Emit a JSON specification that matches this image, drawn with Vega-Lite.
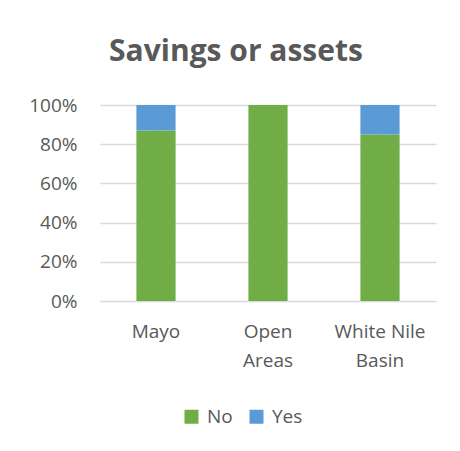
{
  "$schema": "https://vega.github.io/schema/vega-lite/v6.json",
  "width": 336,
  "height": 196,
  "autosize": {"type": "none"},
  "padding": {"left": 100, "top": 105, "right": 24, "bottom": 150},
  "background": "white",
  "title": {
    "text": "Savings or assets",
    "font": "Open Sans",
    "fontSize": 30,
    "fontWeight": "bold",
    "color": "#595959",
    "anchor": "middle",
    "dx": -32,
    "baseline": "alphabetic",
    "offset": 5
  },
  "data": {
    "values": [
      {"region": "Mayo", "answer": "No", "share": 0.87, "rank": 1},
      {"region": "Mayo", "answer": "Yes", "share": 0.13, "rank": 2},
      {"region": "Open Areas", "answer": "No", "share": 1.0, "rank": 1},
      {"region": "Open Areas", "answer": "Yes", "share": 0.0, "rank": 2},
      {"region": "White Nile Basin", "answer": "No", "share": 0.85, "rank": 1},
      {"region": "White Nile Basin", "answer": "Yes", "share": 0.15, "rank": 2}
    ]
  },
  "mark": {"type": "bar"},
  "encoding": {
    "x": {
      "field": "region",
      "type": "nominal",
      "sort": null,
      "scale": {"paddingInner": 0.65, "paddingOuter": 0.325},
      "axis": {
        "title": null,
        "labelAngle": 0,
        "domain": true,
        "domainColor": "#D9D9D9",
        "ticks": false,
        "labelPadding": 21,
        "labelFont": "Open Sans",
        "labelFontSize": 19,
        "labelColor": "#595959",
        "labelLineHeight": 29,
        "labelBaseline": "top",
        "labelExpr": "datum.value == 'Open Areas' ? ['Open', 'Areas'] : datum.value == 'White Nile Basin' ? ['White Nile', 'Basin'] : datum.value"
      }
    },
    "y": {
      "field": "share",
      "type": "quantitative",
      "stack": "zero",
      "scale": {"domain": [0, 1]},
      "axis": {
        "title": null,
        "format": ".0%",
        "values": [0, 0.2, 0.4, 0.6, 0.8, 1],
        "domain": false,
        "ticks": false,
        "labelPadding": 23,
        "labelFont": "Open Sans",
        "labelFontSize": 19,
        "labelColor": "#595959",
        "gridColor": "#D9D9D9",
        "gridWidth": 1.3
      }
    },
    "color": {
      "field": "answer",
      "type": "nominal",
      "scale": {"domain": ["No", "Yes"], "range": ["#70AD47", "#5B9BD5"]},
      "legend": {
        "title": null,
        "orient": "none",
        "direction": "horizontal",
        "legendX": 82,
        "legendY": 302,
        "symbolType": "square",
        "symbolSize": 196,
        "symbolStrokeWidth": 0,
        "labelFont": "Open Sans",
        "labelFontSize": 19,
        "labelColor": "#595959",
        "labelOffset": 6,
        "columnPadding": 14
      }
    },
    "order": {"field": "rank", "type": "quantitative"}
  },
  "config": {
    "view": {"stroke": null},
    "axis": {"grid": true}
  }
}
